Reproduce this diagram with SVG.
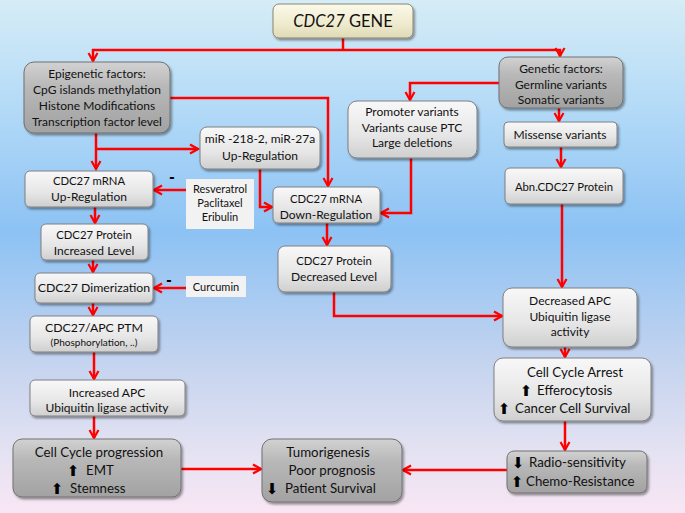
<svg xmlns="http://www.w3.org/2000/svg" width="685" height="513" viewBox="0 0 685 513">
<defs>
<linearGradient id="bg" x1="0" y1="0" x2="0" y2="1">
<stop offset="0" stop-color="#d6ecf6"/>
<stop offset="0.2" stop-color="#b5dbf7"/>
<stop offset="0.45" stop-color="#8cc2f4"/>
<stop offset="0.7" stop-color="#c3d3ef"/>
<stop offset="0.88" stop-color="#e4e2f2"/>
<stop offset="1" stop-color="#f9e6f4"/>
</linearGradient>
<linearGradient id="lg" x1="0" y1="0" x2="0" y2="1">
<stop offset="0" stop-color="#f8f8f8"/>
<stop offset="0.6" stop-color="#e6e6e6"/>
<stop offset="1" stop-color="#cfcfcf"/>
</linearGradient>
<linearGradient id="dg" x1="0" y1="0" x2="0" y2="1">
<stop offset="0" stop-color="#d2d2d2"/>
<stop offset="0.35" stop-color="#b8b8b8"/>
<stop offset="1" stop-color="#a2a2a2"/>
</linearGradient>
<linearGradient id="cg" x1="0" y1="0" x2="0" y2="1">
<stop offset="0" stop-color="#fbf9ea"/>
<stop offset="0.6" stop-color="#eeeacd"/>
<stop offset="1" stop-color="#dfd9b4"/>
</linearGradient>
<filter id="sh" x="-10%" y="-10%" width="125%" height="130%">
<feDropShadow dx="1.5" dy="2" stdDeviation="1.2" flood-color="#000" flood-opacity="0.4"/>
</filter>
<marker id="ah" markerUnits="userSpaceOnUse" markerWidth="12" markerHeight="12" viewBox="0 0 12 12" refX="10" refY="6" orient="auto">
<path d="M2,1.5 L10,6 L2,10.5" fill="none" stroke="#ff0000" stroke-width="2.2"/>
</marker>
</defs>
<style>
.l{fill:url(#lg);stroke:#808080;stroke-width:1;filter:url(#sh)}
.d{fill:url(#dg);stroke:#707070;stroke-width:1;filter:url(#sh)}
.c{fill:url(#cg);stroke:#8a8670;stroke-width:1;filter:url(#sh)}
.f{fill:#f2f2f2}
text{font-family:Lato,"Open Sans","Liberation Sans",sans-serif;fill:#111;font-size:12px;text-anchor:middle}
.s{font-size:11px}
.k{font-size:11.3px}
.b{font-size:13.3px}
.st{text-anchor:start}
.ar{font-family:"DejaVu Sans",sans-serif;font-size:15px;fill:#000}
#connectors path{fill:none;stroke:#ff0000;stroke-width:2.5}
.m{font-family:"Liberation Sans",sans-serif;font-weight:bold;font-size:16px;fill:#000}
</style>
<rect x="0" y="0" width="685" height="513" fill="url(#bg)"/>

<g id="connectors">
<path d="M343,38 V50"/>
<path d="M343,50 H93 V61" marker-end="url(#ah)"/>
<path d="M343,50 H560 V56" marker-end="url(#ah)"/>
<path d="M96,133 V169" marker-end="url(#ah)"/>
<path d="M96,149 H198" marker-end="url(#ah)"/>
<path d="M170,98 H328 V186" marker-end="url(#ah)"/>
<path d="M499,83 H410 V100" marker-end="url(#ah)"/>
<path d="M559,108 V121" marker-end="url(#ah)"/>
<path d="M561,147 V167" marker-end="url(#ah)"/>
<path d="M260,169 V207 H272" marker-end="url(#ah)"/>
<path d="M411,158 V213 H381" marker-end="url(#ah)"/>
<path d="M186,190 H154" marker-end="url(#ah)"/>
<path d="M95,207 V223" marker-end="url(#ah)"/>
<path d="M93,260 V272" marker-end="url(#ah)"/>
<path d="M186,288 H154" marker-end="url(#ah)"/>
<path d="M93,303 V315" marker-end="url(#ah)"/>
<path d="M94,352 V379" marker-end="url(#ah)"/>
<path d="M94,416 V438" marker-end="url(#ah)"/>
<path d="M181,469 H261" marker-end="url(#ah)"/>
<path d="M507,470 H403" marker-end="url(#ah)"/>
<path d="M327,223 V245" marker-end="url(#ah)"/>
<path d="M334,292 V316 H502" marker-end="url(#ah)"/>
<path d="M562,204 V287" marker-end="url(#ah)"/>
<path d="M565,347 V357" marker-end="url(#ah)"/>
<path d="M565,421 V450" marker-end="url(#ah)"/>
</g>

<g id="gene">
<rect class="c" x="273" y="4" width="140" height="34" rx="6"/>
<text x="343" y="27" style="font-size:16.5px"><tspan font-style="italic">CDC27</tspan> GENE</text>
</g>

<g id="epigenetic">
<rect class="d" x="24" y="62" width="146" height="71" rx="10"/>
<text x="97" y="78">Epigenetic factors:</text>
<text x="97" y="94">CpG islands methylation</text>
<text x="97" y="110">Histone Modifications</text>
<text x="97" y="126">Transcription factor level</text>
</g>

<g id="genetic">
<rect class="d" x="499" y="57" width="124" height="51" rx="9"/>
<text x="561" y="73">Genetic factors:</text>
<text x="561" y="89">Germline variants</text>
<text x="561" y="104">Somatic variants</text>
</g>

<g id="promoter">
<rect class="l" x="348" y="101" width="129" height="57" rx="9"/>
<text x="412" y="116">Promoter variants</text>
<text x="412" y="132">Variants cause PTC</text>
<text x="412" y="147">Large deletions</text>
</g>

<g id="missense">
<rect class="l" x="504" y="122" width="113" height="25" rx="4"/>
<text x="560" y="139">Missense variants</text>
</g>

<g id="abn">
<rect class="l" x="505" y="168" width="118" height="36" rx="5"/>
<text class="k" x="564" y="191">Abn.CDC27 Protein</text>
</g>

<g id="mir">
<rect class="l" x="200" y="127" width="120" height="42" rx="7"/>
<text x="260" y="143">miR -218-2, miR-27a</text>
<text x="260" y="160">Up-Regulation</text>
</g>

<g id="mrna-up">
<rect class="l" x="25" y="171" width="128" height="36" rx="5"/>
<text class="k" x="89" y="185">CDC27 mRNA</text>
<text x="89" y="201">Up-Regulation</text>
</g>

<g id="drugs">
<rect class="f" x="186" y="179" width="68" height="50"/>
<text class="s" x="220" y="193">Resveratrol</text>
<text class="s" x="220" y="207">Paclitaxel</text>
<text class="s" x="220" y="221">Eribulin</text>
<text class="m" x="172" y="182">-</text>
</g>

<g id="mrna-down">
<rect class="l" x="273" y="187" width="107" height="36" rx="5"/>
<text class="k" x="326" y="203">CDC27 mRNA</text>
<text x="326" y="219">Down-Regulation</text>
</g>

<g id="protein-inc">
<rect class="l" x="41" y="224" width="107" height="36" rx="5"/>
<text class="k" x="94" y="239">CDC27 Protein</text>
<text x="94" y="255">Increased Level</text>
</g>

<g id="protein-dec">
<rect class="l" x="278" y="246" width="113" height="46" rx="7"/>
<text class="k" x="334" y="265">CDC27 Protein</text>
<text x="334" y="281">Decreased Level</text>
</g>

<g id="dimer">
<rect class="l" x="35" y="273" width="118" height="30" rx="5"/>
<text x="94" y="292" style="font-size:12.3px">CDC27 Dimerization</text>
</g>

<g id="curcumin">
<rect class="f" x="186" y="276" width="60" height="21"/>
<text class="s" x="216" y="291">Curcumin</text>
<text class="m" x="169" y="285">-</text>
</g>

<g id="ptm">
<rect class="l" x="30" y="316" width="128" height="36" rx="5"/>
<text x="94" y="332" style="font-size:12.3px">CDC27/APC PTM</text>
<text x="94" y="346" style="font-size:10px">(Phosphorylation, ..)</text>
</g>

<g id="inc-apc">
<rect class="l" x="30" y="380" width="155" height="36" rx="5"/>
<text x="107" y="397">Increased APC</text>
<text x="107" y="412">Ubiquitin ligase activity</text>
</g>

<g id="dec-apc">
<rect class="l" x="503" y="288" width="134" height="59" rx="9"/>
<text x="570" y="305">Decreased APC</text>
<text x="570" y="321">Ubiquitin ligase</text>
<text x="570" y="336">activity</text>
</g>

<g id="arrest">
<rect class="l" x="494" y="358" width="157" height="63" rx="9"/>
<text class="b" x="575" y="377">Cell Cycle Arrest</text>
<text class="b st" x="537" y="395">Efferocytosis</text>
<text class="ar" x="526" y="396">⬆</text>
<text class="b st" x="515" y="413">Cancer Cell Survival</text>
<text class="ar" x="504" y="414">⬆</text>
</g>

<g id="ccp">
<rect class="d" x="13" y="439" width="168" height="58" rx="9"/>
<text class="b" x="99" y="457">Cell Cycle progression</text>
<text class="b st" x="86" y="475">EMT</text>
<text class="ar" x="73" y="476">⬆</text>
<text class="b st" x="70" y="493">Stemness</text>
<text class="ar" x="57" y="494">⬆</text>
</g>

<g id="tumor">
<rect class="d" x="262" y="439" width="140" height="63" rx="10"/>
<text class="b" x="328" y="457">Tumorigenesis</text>
<text class="b" x="332" y="475">Poor prognosis</text>
<text class="b st" x="285" y="493">Patient Survival</text>
<text class="ar" x="272" y="494">⬇</text>
</g>

<g id="radio">
<rect class="d" x="507" y="451" width="140" height="42" rx="7"/>
<text class="b st" x="529" y="467">Radio-sensitivity</text>
<text class="ar" x="518" y="468">⬇</text>
<text class="b st" x="526" y="486">Chemo-Resistance</text>
<text class="ar" x="517" y="487">⬆</text>
</g>
</svg>
